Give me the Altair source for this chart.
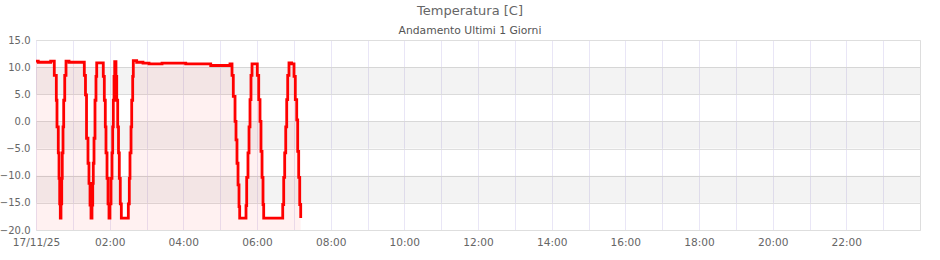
import altair as alt
import pandas as pd

# minutes after 17/11/25 00:00 and temperature readings [C]
minutes = [0, 3.7, 23.9, 29.8, 33.1, 34.2, 36.3, 37.5, 38.6, 39.6, 40.7, 41.9, 42.8, 44.0, 45.1, 46.8, 48.9, 53.8,
           78.7, 80.6, 82.3, 84.7, 86.3, 88.0, 89.6, 91.2, 92.4, 93.3, 94.5, 96.1, 97.7, 98.9,
           109.6, 111.3, 112.9, 114.0, 115.7, 117.3, 118.9, 120.5, 122.2, 123.8, 124.9, 125.9, 127.1, 128.2,
           130.3, 131.5, 133.1, 134.4, 135.7, 137.3, 139.0, 150.4, 152.0, 153.1, 154.8, 155.9, 157.5, 158.5,
           164.0, 174.3, 184.1, 205.3, 243.9, 284.6, 316.0,
           319.3, 321.4, 324.2, 325.8, 327.4, 329.1, 330.7, 331.8, 342.1, 343.2, 345.3, 347.0, 348.6, 350.2, 351.9,
           360.5, 362.8, 364.9, 366.5, 368.2, 369.8, 370.9, 401.9, 403.5, 405.1, 406.8, 408.4, 410.0, 412.1, 416.5,
           420.3, 422.4, 424.7, 426.3, 427.9, 429.6, 431.2]
temps = [11.1, 10.9, 11.1, 8.5, 3.9, -1.0, -5.8, -10.5, -15.2, -17.8, -15.2, -10.5, -5.8, -1.0, 3.9, 8.5, 11.1, 10.9,
         8.5, 4.9, -3.1, -7.7, -11.4, -15.4, -17.8, -15.4, -11.4, -7.7, -3.1, 3.9, 8.3, 10.8,
         8.3, 3.9, -1.0, -5.8, -10.5, -15.2, -17.8, -15.2, -10.5, -5.8, -1.0, 3.9, 8.3, 11.0,
         8.3, 3.9, -1.0, -5.8, -10.5, -15.2, -17.8, -15.2, -10.5, -5.8, -1.0, 3.9, 8.3, 11.2,
         10.9, 10.75, 10.6, 10.75, 10.6, 10.3, 10.6,
         8.5, 4.6, 0.0, -3.4, -7.7, -11.7, -15.7, -17.8, -15.5, -10.3, -5.8, -1.0, 4.0, 8.5, 10.6,
         8.5, 4.0, 0.0, -5.5, -10.3, -15.3, -17.8, -15.3, -10.3, -5.8, -1.0, 4.0, 8.5, 10.8, 10.6,
         8.3, 4.0, 0.3, -5.5, -10.3, -15.3, -17.8]

band_lo = [5, -5, -15]
band_hi = [10, 0, -10]
y_ticks = [-20, -15, -10, -5, 0, 5, 10, 15]
hours = list(range(24))

df = pd.DataFrame({
    "time": pd.Timestamp("2025-11-17") + pd.to_timedelta(minutes, unit="min"),
    "temp": temps,
})
bands = pd.DataFrame({"lo": band_lo, "hi": band_hi})

FONT = "DejaVu Sans"

yscale = alt.Scale(domain=[-20, 15], nice=False, zero=False)
yaxis = alt.Axis(values=y_ticks, format=".1f", title=None, ticks=False, domain=False,
                 gridColor="#dedede", labelColor="#666666", labelFontSize=10, labelFont=FONT,
                 labelPadding=6)

xscale = alt.Scale(domain=[alt.DateTime(year=2025, month=11, date=17, hours=0),
                           alt.DateTime(year=2025, month=11, date=18, hours=0)], nice=False)
xaxis = alt.Axis(values=[alt.DateTime(year=2025, month=11, date=17, hours=h) for h in hours],
                 labelExpr="hours(datum.value) == 0 ? timeFormat(datum.value, '%d/%m/%y') : "
                           "(hours(datum.value) % 2 == 0 ? timeFormat(datum.value, '%H:%M') : '')",
                 title=None, ticks=False, domain=False, gridColor="#e9e6f6",
                 labelColor="#666666", labelFontSize=10.6, labelFont=FONT, labelPadding=7,
                 labelOverlap=False, labelFlush=False)

band_layer = alt.Chart(bands).mark_rect(fill="#000000", opacity=0.047).encode(
    x=alt.value(0), x2=alt.value("width"),
    y=alt.Y("lo:Q", scale=yscale, axis=yaxis), y2="hi:Q",
)

area_layer = alt.Chart(df).mark_area(interpolate="step-after", color="#ff0000", opacity=0.055).encode(
    x=alt.X("time:T", scale=xscale, axis=xaxis),
    y=alt.Y("temp:Q", scale=yscale, axis=yaxis),
    y2=alt.datum(-20),
)

line_layer = alt.Chart(df).mark_line(interpolate="step-after", color="#ff0000", strokeWidth=2.8,
                                      strokeJoin="miter").encode(
    x=alt.X("time:T", scale=xscale, axis=xaxis),
    y=alt.Y("temp:Q", scale=yscale, axis=yaxis),
)

chart = alt.layer(band_layer, area_layer, line_layer).properties(
    width=884, height=190,
    autosize=alt.AutoSizeParams(type="none"),
    padding={"left": 36, "top": 40, "right": 20, "bottom": 30},
    title=alt.TitleParams(text="Temperatura [C]", subtitle="Andamento Ultimi 1 Giorni",
                          font=FONT, subtitleFont=FONT, fontSize=13, subtitleFontSize=10.75,
                          fontWeight="normal", color="#666666", subtitleColor="#555555",
                          anchor="middle", dx=-8, offset=-1, subtitlePadding=8),
).configure_view(stroke="#d9d9d9", strokeWidth=1).configure(background="white")

chart.save("out.html", embed_options={"renderer": "svg", "actions": False})
